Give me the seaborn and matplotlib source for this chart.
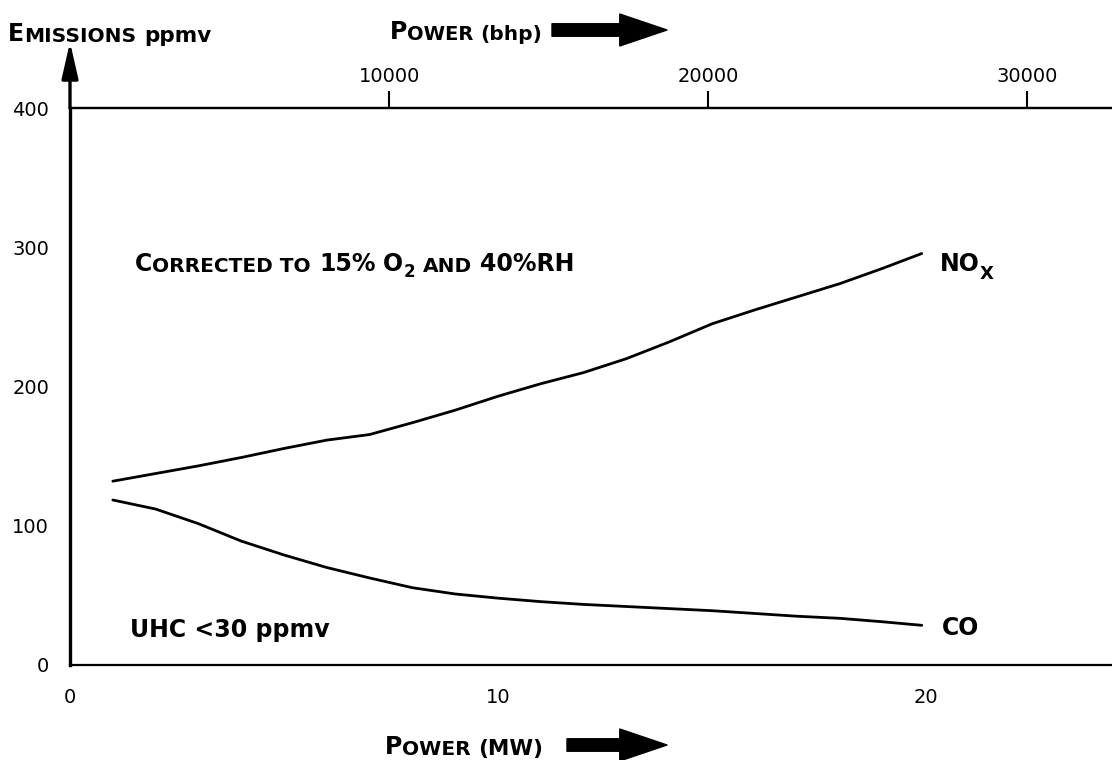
import numpy as np
import pandas as pd
import matplotlib
matplotlib.use("Agg")
import matplotlib.pyplot as plt
import seaborn as sns

sns.set_style("white")
plt.rcParams['font.family'] = ['DejaVu Sans']
plt.rcParams['text.color'] = 'black'

# Werte
nox_power_mw = [1, 2, 3, 4, 5, 6, 7, 8, 9, 10, 11, 12, 13, 14, 15, 16, 17, 18, 19, 19.9]
nox_ppmv = [132, 137.5, 143, 149, 155.5, 161.5, 165.5, 174, 183, 193, 202, 210, 220, 232, 245,
            255, 264.5, 274, 285, 295.5]

co_power_mw = [1, 2, 3, 4, 5, 6, 7, 8, 9, 10, 11, 12, 13, 14, 15, 16, 17, 18, 19, 19.9]
co_ppmv = [118.5, 112, 101.5, 89, 79, 70, 62.5, 55.5, 51, 48, 45.5, 43.5, 42, 40.5, 39,
           37, 35, 33.5, 31, 28.5]

y_ticks = [0, 100, 200, 300, 400]
mw_ticks = [0, 10, 20]
mw_minor = [5, 15]
bhp_ticks = [10000, 20000, 30000]
BHP_PER_MW = 1341

df = pd.concat([
    pd.DataFrame({'power_mw': nox_power_mw, 'ppmv': nox_ppmv, 'species': 'NOx'}),
    pd.DataFrame({'power_mw': co_power_mw, 'ppmv': co_ppmv, 'species': 'CO'}),
])

W, H = 1112, 760
fig = plt.figure(figsize=(W / 100, H / 100), dpi=100)
ax = fig.add_axes([70 / W, 1 - 665 / H, 1 - 70 / W, (665 - 108) / H])

sns.lineplot(data=df, x='power_mw', y='ppmv', units='species', estimator=None,
             color='black', lw=2.0, ax=ax, legend=False)

ax.set_xlim(0, (W - 70) / 42.8)
ax.set_ylim(0, 400)
ax.set_xlabel('')
ax.set_ylabel('')

ax.spines['right'].set_visible(False)
ax.spines['left'].set_linewidth(2.4)
ax.spines['bottom'].set_linewidth(1.6)
ax.spines['top'].set_linewidth(1.6)
for s in ax.spines.values():
    s.set_color('black')

ax.set_yticks(y_ticks)
ax.tick_params(axis='y', direction='out', length=12, width=1.5, pad=3, labelsize=14,
               colors='black')
ax.set_xticks(mw_ticks)
ax.set_xticks(mw_minor, minor=True)
ax.tick_params(axis='x', which='both', direction='out', length=9.5, width=1.5, pad=7,
               labelsize=14, colors='black')
ax.xaxis.get_major_ticks()[0].tick1line.set_visible(False)

secax = ax.secondary_xaxis('top', functions=(lambda x: x * BHP_PER_MW,
                                             lambda b: b / BHP_PER_MW))
secax.set_xticks(bhp_ticks)
secax.tick_params(direction='out', length=12, width=1.5, pad=4, labelsize=14, colors='black')
secax.spines['top'].set_linewidth(1.6)

# Pfeil an der y-Achse
ax.annotate('', xy=(0, 1 + 66 / 557), xytext=(0, 1.0), xycoords='axes fraction',
            annotation_clip=False,
            arrowprops=dict(arrowstyle='-|>,head_length=1.1,head_width=0.25',
                            lw=2.4, color='black', mutation_scale=20,
                            shrinkA=0, shrinkB=0))


def label(x, y, pieces):
    # Kapitälchen aus mehreren Textstücken zusammensetzen
    first = prev = None
    for txt, size, dy, gap in pieces:
        if first is None:
            t = ax.annotate(txt, xy=(x / W, 1 - y / H), xycoords='figure fraction',
                            fontsize=size, fontweight='bold', va='bottom', ha='left',
                            annotation_clip=False)
            first = t
        else:
            t = ax.annotate(txt, xy=(1, 0), xycoords=(prev, first), xytext=(gap, dy),
                            textcoords='offset pixels', fontsize=size, fontweight='bold',
                            va='bottom', ha='left', annotation_clip=False)
        prev = t
    return prev


def big_arrow(x0, x1, y):
    ax.annotate('', xy=(x1 / W, 1 - y / H), xytext=(x0 / W, 1 - y / H),
                xycoords='figure fraction', annotation_clip=False,
                arrowprops=dict(arrowstyle='simple,head_length=1.7,head_width=1.15,tail_width=0.45',
                                fc='black', ec='black', mutation_scale=20,
                                shrinkA=0, shrinkB=0))


L, S, LC = 17, 14.5, 15.5
label(8, 46, [('E', L, 0, 0), ('MISSIONS', S, 0, 0), ('ppmv', LC, 0, 8)])
label(390, 44, [('P', L, 0, 0), ('OWER', 14, 0, 0), ('(bhp)', 14.5, 0, 6)])
big_arrow(552, 667, 30)

label(135, 276, [('C', L, 0, 0), ('ORRECTED TO', S, 0, 0), ('15%', L, 0, 8),
                 ('O', L, 0, 8), ('2', 12, -5, 0), ('AND', S, 0, 8),
                 ('40%RH', L, 0, 8)])
label(940, 276, [('NO', L, 0, 0), ('X', 13, -7, 0)])
label(942, 640, [('CO', L, 0, 0)])
label(130, 642, [('UHC <30 ppmv', L, 0, 0)])

label(385, 759, [('P', L, 0, 0), ('OWER', S, 0, 0), ('(MW)', LC, 0, 7)])
big_arrow(567, 667, 745)

fig.savefig('out.png', dpi=100)
